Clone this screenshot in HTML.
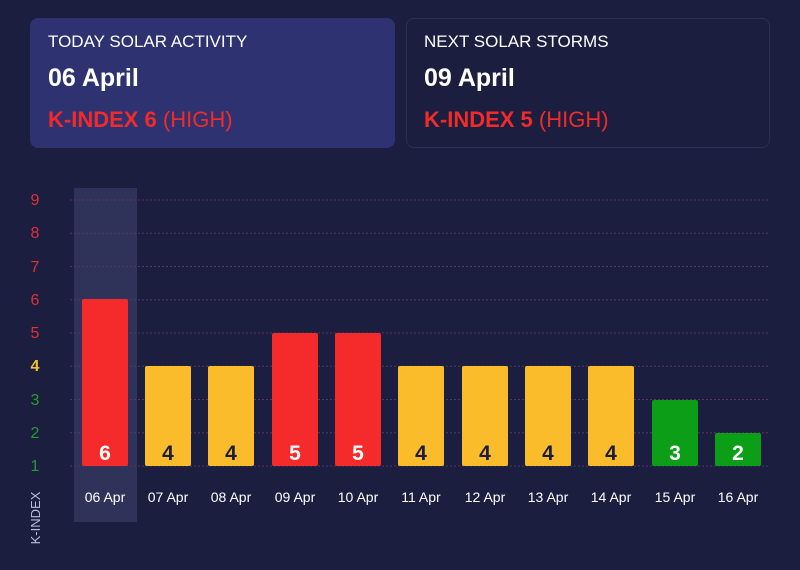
<!DOCTYPE html>
<html><head><style>
body{margin:0;width:800px;height:570px;background:#1b1e3e;font-family:"Liberation Sans",sans-serif;overflow:hidden;position:relative}
.card{position:absolute;top:18px;height:130px;box-sizing:border-box;border-radius:8px;padding-left:18px}
.t{position:absolute;left:18px;top:14px;color:#fff;font-size:17px;white-space:nowrap}
.d{position:absolute;left:18px;top:46px;color:#fff;font-size:25px;font-weight:bold;white-space:nowrap}
.k{position:absolute;left:18px;top:89px;color:#f22a2a;font-size:22px;white-space:nowrap}
</style></head><body>
<div class="card" style="left:30px;width:365px;background:#2e3270"><div class="t">TODAY SOLAR ACTIVITY</div><div class="d">06 April</div><div class="k"><b>K-INDEX 6</b> (HIGH)</div></div>
<div class="card" style="left:406px;width:364px;border:1px solid #2c3058"><div class="t" style="left:17px;top:13px">NEXT SOLAR STORMS</div><div class="d" style="left:17px;top:45px">09 April</div><div class="k" style="left:17px;top:88px"><b>K-INDEX 5</b> (HIGH)</div></div>
<svg width="800" height="570" style="position:absolute;left:0;top:0" font-family="Liberation Sans, sans-serif">
<rect x="74" y="188" width="63" height="334" fill="#2f3359"/>
<g stroke="#563660" stroke-dasharray="2,2" stroke-width="1">
<line x1="70" x2="770" y1="200" y2="200"/><line x1="70" x2="770" y1="233.25" y2="233.25"/><line x1="70" x2="770" y1="266.5" y2="266.5"/><line x1="70" x2="770" y1="299.75" y2="299.75"/><line x1="70" x2="770" y1="333" y2="333"/><line x1="70" x2="770" y1="366.25" y2="366.25"/><line x1="70" x2="770" y1="399.5" y2="399.5"/><line x1="70" x2="770" y1="432.75" y2="432.75"/><line x1="70" x2="770" y1="466" y2="466"/>
</g>
<g font-size="16" text-anchor="middle">
<text x="35" y="205" fill="#e0303a">9</text><text x="35" y="238" fill="#e0303a">8</text><text x="35" y="272" fill="#e0303a">7</text><text x="35" y="305" fill="#e0303a">6</text><text x="35" y="338" fill="#e0303a">5</text><text x="35" y="371" fill="#f5c030" font-weight="bold">4</text><text x="35" y="405" fill="#1ea02a">3</text><text x="35" y="438" fill="#1ea02a">2</text><text x="35" y="471" fill="#1ea02a">1</text>
</g>
<text transform="translate(40,518) rotate(-90)" text-anchor="middle" fill="#b8bce0" font-size="13">K-INDEX</text>
<g font-size="14" fill="#fff" text-anchor="middle">
<text x="105" y="502">06 Apr</text><text x="168" y="502">07 Apr</text><text x="231" y="502">08 Apr</text><text x="295" y="502">09 Apr</text><text x="358" y="502">10 Apr</text><text x="421" y="502">11 Apr</text><text x="485" y="502">12 Apr</text><text x="548" y="502">13 Apr</text><text x="611" y="502">14 Apr</text><text x="675" y="502">15 Apr</text><text x="738" y="502">16 Apr</text>
</g>
<g font-size="21" font-weight="bold" text-anchor="middle">
<rect x="82" y="299" width="46" height="167" rx="2" fill="#f52a2a"/><text x="105" y="460" fill="#fff">6</text>
<rect x="145" y="366" width="46" height="100" rx="2" fill="#fbbc2c"/><text x="168" y="460" fill="#1b1e3e">4</text>
<rect x="208" y="366" width="46" height="100" rx="2" fill="#fbbc2c"/><text x="231" y="460" fill="#1b1e3e">4</text>
<rect x="272" y="333" width="46" height="133" rx="2" fill="#f52a2a"/><text x="295" y="460" fill="#fff">5</text>
<rect x="335" y="333" width="46" height="133" rx="2" fill="#f52a2a"/><text x="358" y="460" fill="#fff">5</text>
<rect x="398" y="366" width="46" height="100" rx="2" fill="#fbbc2c"/><text x="421" y="460" fill="#1b1e3e">4</text>
<rect x="462" y="366" width="46" height="100" rx="2" fill="#fbbc2c"/><text x="485" y="460" fill="#1b1e3e">4</text>
<rect x="525" y="366" width="46" height="100" rx="2" fill="#fbbc2c"/><text x="548" y="460" fill="#1b1e3e">4</text>
<rect x="588" y="366" width="46" height="100" rx="2" fill="#fbbc2c"/><text x="611" y="460" fill="#1b1e3e">4</text>
<rect x="652" y="400" width="46" height="66" rx="2" fill="#0c9e16"/><text x="675" y="460" fill="#fff">3</text>
<rect x="715" y="433" width="46" height="33" rx="2" fill="#0c9e16"/><text x="738" y="460" fill="#fff">2</text>
</g>
</svg>
</body></html>
